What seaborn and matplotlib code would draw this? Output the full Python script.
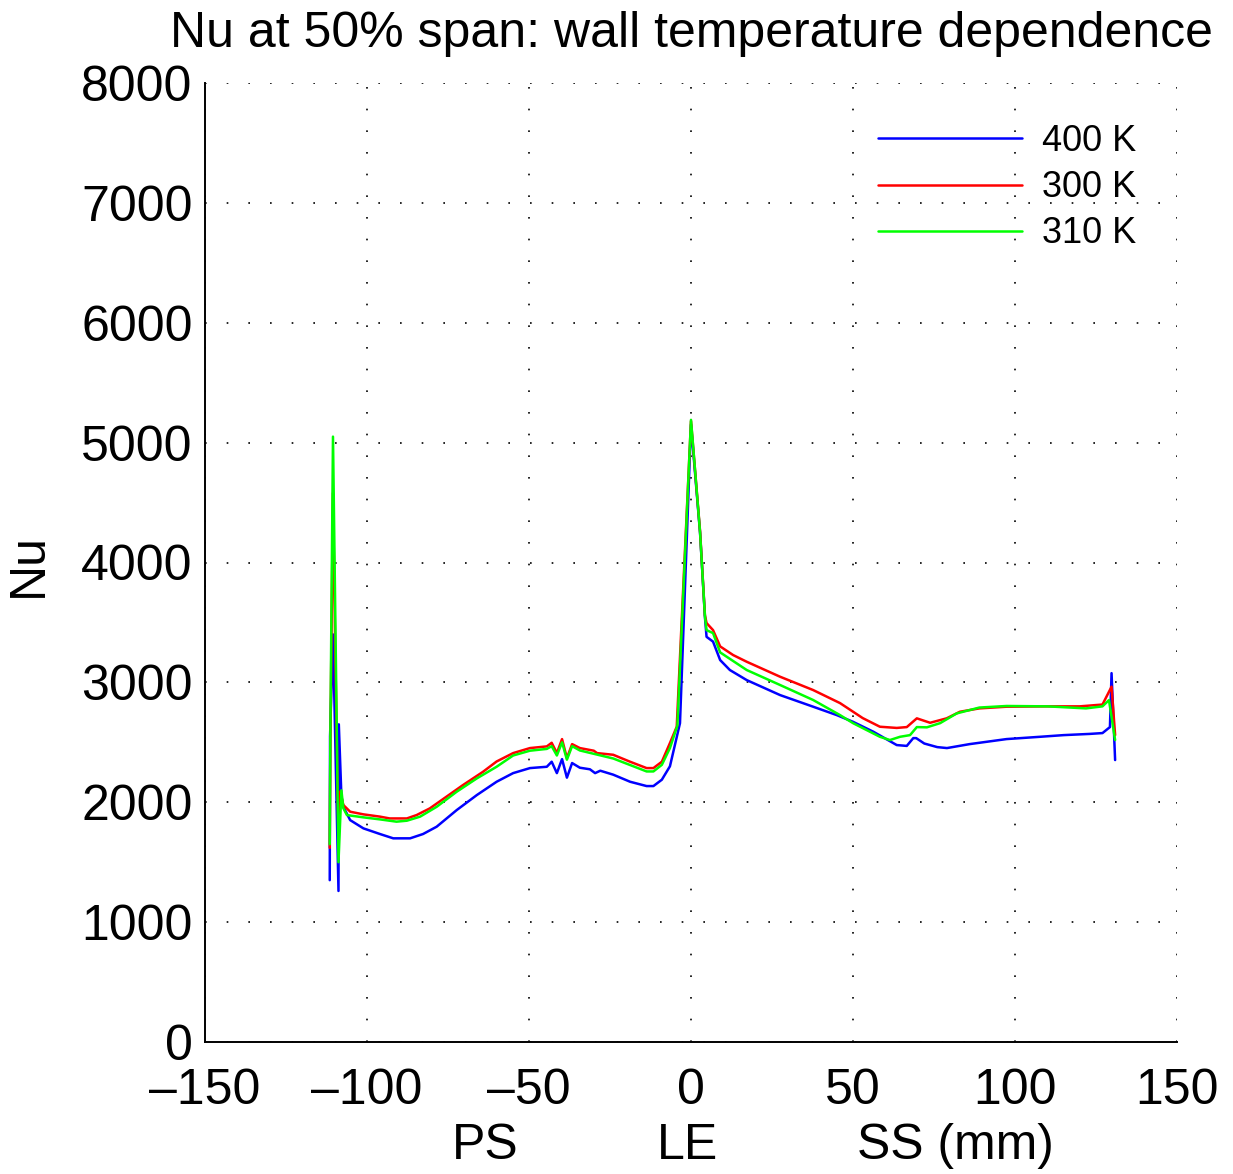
import matplotlib
matplotlib.use("Agg")
import matplotlib.pyplot as plt
import numpy as np
import pandas as pd
import seaborn as sns

# Surface distance (mm): negative = pressure side, 0 = leading edge, positive = suction side
x_400 = [-111.5, -111.4, -110.5, -108.8, -108.7, -107.9, -107.3, -105.2, -101.1, -96.0,
         -91.9, -86.7, -82.7, -78.5, -72.3, -66.1, -60.0, -54.9, -49.7, -44.5,
         -43.0, -41.4, -39.8, -38.3, -36.7, -34.3, -31.2, -29.6, -28.0, -24.0,
         -18.8, -13.7, -11.6, -9.0, -6.5, -3.4, 0.0, 2.8, 4.3, 4.8,
         6.8, 9.0, 12.0, 17.2, 27.5, 37.7, 45.0, 50.0, 56.3, 63.5,
         66.6, 68.6, 69.5, 72.0, 76.0, 79.0, 86.0, 97.4, 107.7, 115.0,
         123.0, 127.0, 129.3, 129.8, 130.9]
nu_400 = [1350, 2550, 3400, 1260, 2650, 2050, 1962, 1851, 1782, 1735,
          1699, 1699, 1735, 1796, 1935, 2060, 2171, 2243, 2285, 2296,
          2338, 2243, 2360, 2205, 2327, 2288, 2275, 2243, 2263, 2230,
          2171, 2135, 2135, 2188, 2300, 2660, 5150, 4245, 3545, 3380,
          3340, 3186, 3103, 3019, 2894, 2797, 2727, 2671, 2588, 2477,
          2470, 2535, 2535, 2490, 2460, 2452, 2485, 2527, 2546, 2560,
          2570, 2577, 2627, 3077, 2352]

x_300 = [-111.5, -111.3, -110.5, -109.8, -108.8, -108.3, -107.3, -105.2, -101.1, -96.0,
         -93.0, -87.7, -84.7, -80.6, -75.5, -70.4, -64.2, -60.0, -54.9, -49.7,
         -44.5, -43.0, -41.4, -39.8, -38.3, -36.7, -34.3, -30.0, -29.0, -24.0,
         -18.8, -13.7, -11.6, -9.0, -6.5, -4.4, 0.0, 2.8, 4.3, 4.8,
         6.8, 9.0, 13.0, 17.2, 27.5, 37.7, 46.0, 53.0, 58.3, 63.5,
         66.6, 69.7, 73.8, 78.9, 83.0, 89.0, 97.4, 110.0, 120.0, 127.0,
         129.8, 130.9]
nu_300 = [1620, 2500, 4580, 3270, 1700, 2090, 1977, 1921, 1899, 1880,
          1865, 1865, 1893, 1949, 2046, 2143, 2254, 2340, 2410, 2452,
          2466, 2496, 2410, 2527, 2368, 2485, 2452, 2430, 2410, 2396,
          2338, 2285, 2285, 2338, 2494, 2630, 5180, 4260, 3560, 3495,
          3436, 3300, 3228, 3172, 3047, 2936, 2827, 2702, 2630, 2620,
          2627, 2700, 2663, 2700, 2755, 2783, 2797, 2800, 2800, 2815,
          2964, 2560]

x_310 = [-111.5, -111.3, -110.5, -108.8, -107.9, -107.3, -106.2, -101.1, -96.0, -90.9,
         -87.7, -83.6, -78.5, -72.3, -66.1, -60.0, -54.9, -49.7, -44.5, -43.0,
         -41.4, -39.8, -38.3, -36.7, -34.3, -24.0, -13.7, -11.6, -9.0, -6.5,
         -4.2, 0.0, 2.8, 4.3, 4.8, 6.8, 9.0, 17.2, 27.5, 37.7,
         46.0, 50.0, 58.3, 61.4, 64.5, 67.6, 69.7, 72.8, 76.9, 82.0,
         89.0, 97.4, 110.0, 121.9, 127.0, 129.0, 130.9]
nu_310 = [1650, 2600, 5050, 1500, 2100, 1950, 1893, 1874, 1857, 1838,
          1846, 1880, 1962, 2088, 2199, 2296, 2390, 2430, 2445, 2468,
          2390, 2500, 2355, 2468, 2432, 2365, 2257, 2257, 2312, 2452,
          2640, 5190, 4250, 3550, 3436, 3411, 3250, 3103, 2978, 2853,
          2727, 2660, 2546, 2519, 2546, 2560, 2627, 2625, 2660, 2741,
          2790, 2803, 2800, 2783, 2800, 2852, 2519]

series_labels = ["400 K", "300 K", "310 K"]
series_colors = ["#0000ff", "#ff0000", "#00ff00"]
x_ticks = [-150, -100, -50, 0, 50, 100, 150]
y_ticks = [0, 1000, 2000, 3000, 4000, 5000, 6000, 7000, 8000]

frames = []
for lab, xs, ys in zip(series_labels, [x_400, x_300, x_310], [nu_400, nu_300, nu_310]):
    frames.append(pd.DataFrame({"s": xs, "Nu": ys, "Twall": lab}))
df = pd.concat(frames, ignore_index=True)

sns.set_style("white")
plt.rcParams["font.family"] = ["Liberation Sans", "DejaVu Sans"]
plt.rcParams["axes.unicode_minus"] = True
plt.rcParams["text.color"] = "black"
plt.rcParams["axes.labelcolor"] = "black"

W, H = 1233, 1174
fig = plt.figure(figsize=(W / 100, H / 100), dpi=100)
ax = fig.add_axes([205 / W, 1 - 1042 / H, (1177 - 205) / W, (1042 - 83) / H])

sns.lineplot(data=df, x="s", y="Nu", hue="Twall", hue_order=series_labels,
             palette=dict(zip(series_labels, series_colors)),
             sort=False, estimator=None, linewidth=1.8, ax=ax, legend=True)

ax.set_xlim(-150, 150)
ax.set_ylim(0, 8000)
ax.set_xticks(x_ticks)
ax.set_yticks(y_ticks)
ax.set_xticklabels([str(v).replace("-", "\u2013") for v in x_ticks])

fs = 36
ax.tick_params(axis="both", which="major", direction="in", length=9, width=1.1,
               labelsize=fs, colors="black", top=False, right=False)
ax.tick_params(axis="x", pad=19)
ax.tick_params(axis="y", pad=9)

for side in ["top", "right"]:
    ax.spines[side].set_visible(False)
for side in ["left", "bottom"]:
    ax.spines[side].set_linewidth(1.4)
    ax.spines[side].set_color("black")

ax.grid(True, color="black", linestyle=(0, (1, 12)), linewidth=1.2)
ax.set_axisbelow(True)

ax.set_title("Nu at 50% span: wall temperature dependence", fontsize=fs,
             pad=26, color="black")
ax.set_ylabel("Nu", fontsize=fs, color="black")
ax.yaxis.set_label_coords(-0.158, 0.497)
ax.set_xlabel("")

# Surface region labels under the x axis
lab_tr = matplotlib.transforms.blended_transform_factory(ax.transData, fig.transFigure)
for txt, xpos in [("PS", -63.6), ("LE", -1.2), ("SS (mm)", 81.5)]:
    ax.text(xpos, 1 - 1146 / H, txt, transform=lab_tr, ha="center", va="center",
            fontsize=fs, color="black")

handles, labels = ax.get_legend_handles_labels()
leg = ax.legend(handles, labels, loc="upper left", bbox_to_anchor=(878 / W, 1 - 124 / H),
                bbox_transform=fig.transFigure, frameon=False, fontsize=26,
                handlelength=4.0, handletextpad=0.55, labelspacing=0.31,
                borderpad=0, borderaxespad=0)
for t in leg.get_texts():
    t.set_color("black")

fig.savefig("out.png", dpi=100)
